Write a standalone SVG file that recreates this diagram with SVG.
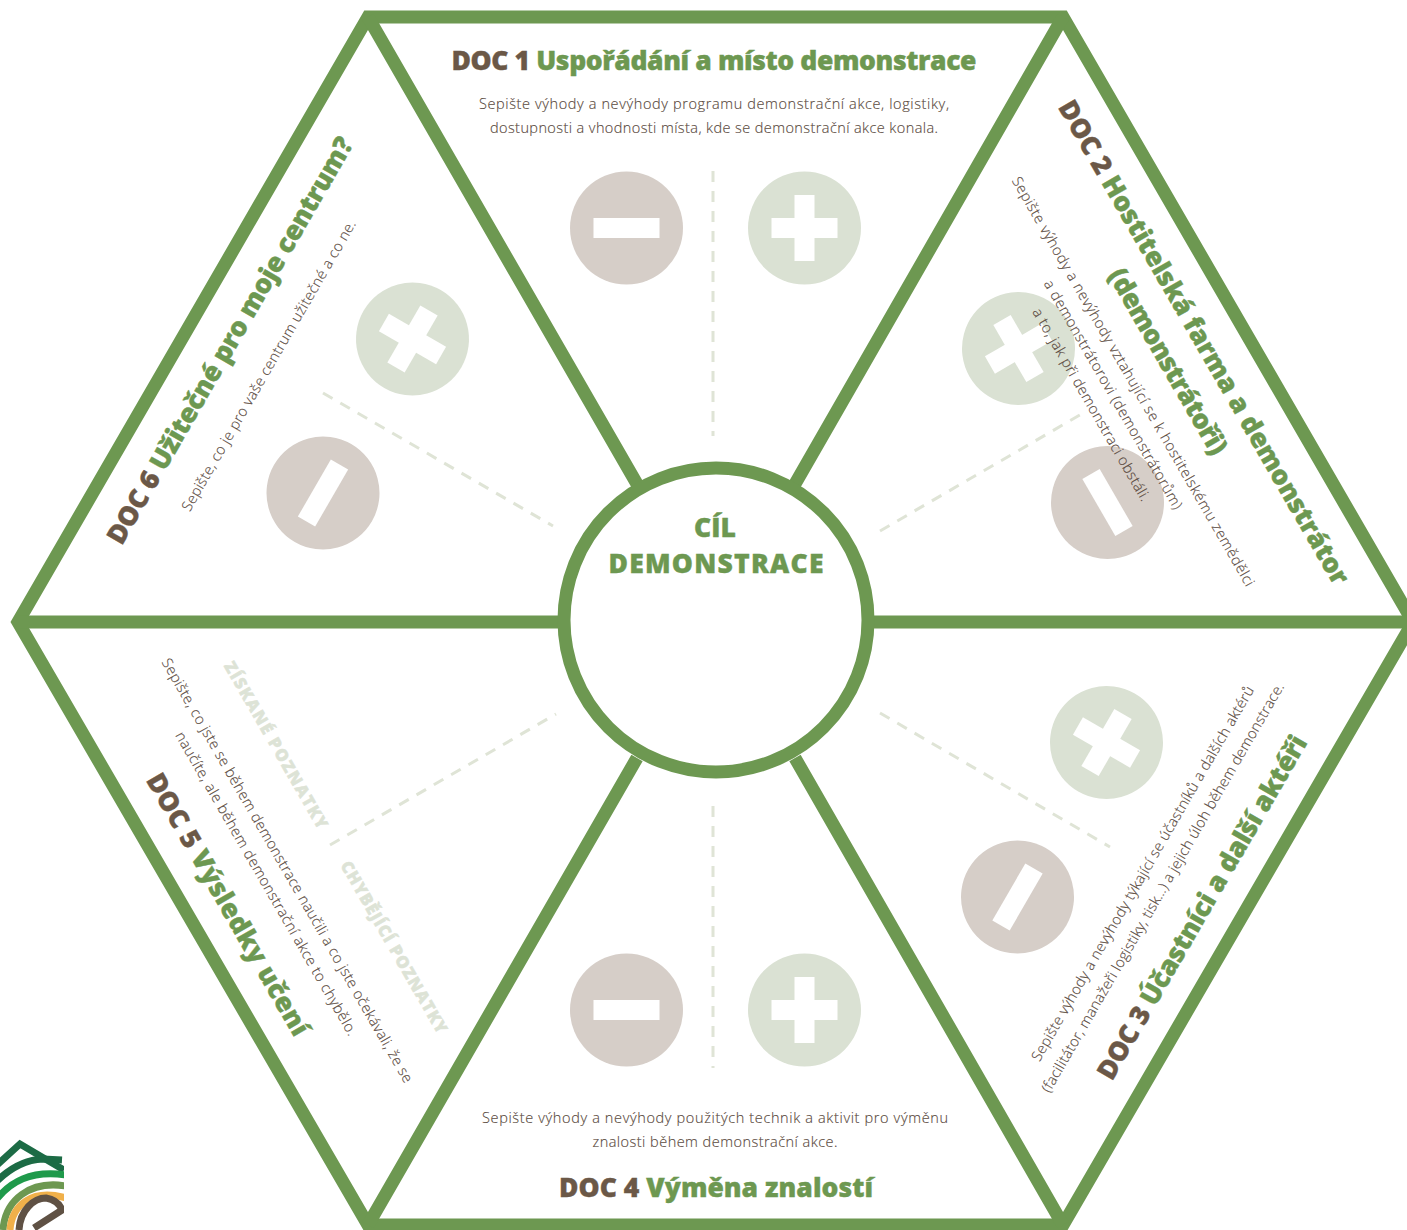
<svg xmlns="http://www.w3.org/2000/svg" width="1407" height="1230" viewBox="0 0 1407 1230">
<style>
text{font-family:"Open Sans","Noto Sans","DejaVu Sans",sans-serif;text-anchor:middle}
.t{font-size:26.5px;font-weight:800;fill:#6d9851;stroke:#6d9851;stroke-width:.4}
.t tspan{fill:#6b5847;stroke:#6b5847}
.d{font-size:14.5px;font-weight:300;fill:#5a4a3e;stroke:#5a4a3e;stroke-width:.15}
.k{font-size:16.5px;font-weight:800;fill:#dde3d6;stroke:#dde3d6;stroke-width:.5}
.edge{fill:none;stroke:#6d9851;stroke-width:13;stroke-linejoin:miter}
.dash{fill:none;stroke:#dfe4d6;stroke-width:3;stroke-dasharray:11 9}
.bg-p{fill:#dae1d3}.bg-m{fill:#d6cec8}.w{fill:#fff}
.l{fill:none;stroke-width:7}
</style>
<defs>
<g id="plus"><circle r="56.5" class="bg-p"/><rect x="-33" y="-10" width="66" height="20" class="w"/><rect x="-10" y="-33" width="20" height="66" class="w"/></g>
<g id="minus"><circle r="56.5" class="bg-m"/><rect x="-33" y="-10" width="66" height="20" class="w"/></g>
<clipPath id="lc"><rect x="0" y="1130" width="64" height="100"/></clipPath>
</defs>
<rect width="1407" height="1230" fill="#fff"/>
<g id="connectors">
<polygon class="edge" points="368,17 1063,17 1413,622 1063,1225 368,1225 18,622"/>
<path class="edge" d="M368,17 L637,484M1063,17 L795,484M18,622 H560M1413,622 H872M368,1225 L637,758M1063,1225 L795,758"/>
<path class="dash" d="M713,171V436M713,806V1068M880,531L1085,412M880,713L1110,847M330,845L556,714M323,393L553,526"/>
</g>
<g id="center"><circle cx="716" cy="620" r="152" fill="#fff" stroke="#6d9851" stroke-width="13"/>
<text class="t" x="715" y="537">CÍL</text><text class="t" x="716" y="573" textLength="215">DEMONSTRACE</text></g>
<g id="doc1"><text class="t" x="714" y="70" textLength="525"><tspan>DOC 1</tspan> Uspořádání a místo demonstrace</text>
<text class="d" x="714" y="109" textLength="470">Sepište výhody a nevýhody programu demonstrační akce, logistiky,</text>
<text class="d" x="714" y="133" textLength="448">dostupnosti a vhodnosti místa, kde se demonstrační akce konala.</text>
<use href="#minus" x="626.5" y="228"/><use href="#plus" x="804.5" y="228"/></g>
<g id="doc2"><use href="#plus" transform="translate(1018.5,348.5) rotate(60)"/><use href="#minus" transform="translate(1107.5,502.5) rotate(60)"/>
<g transform="translate(1196,347) rotate(60)"><text class="t" textLength="554"><tspan>DOC 2</tspan> Hostitelská farma a demonstrátor</text></g>
<g transform="translate(1160,366) rotate(60)"><text class="t" textLength="210">(demonstrátoři)</text></g>
<g transform="translate(1129,384) rotate(60)"><text class="d" textLength="470">Sepište výhody a nevýhody vztahující se k hostitelskému zemědělci</text></g>
<g transform="translate(1109,397) rotate(60)"><text class="d" textLength="262">a demonstrátorovi (demonstrátorům)</text></g>
<g transform="translate(1087,407) rotate(60)"><text class="d" textLength="220">a to, jak při demonstraci obstáli.</text></g></g>
<g id="doc3"><use href="#plus" transform="translate(1106.5,742.5) rotate(30)"/><use href="#minus" transform="translate(1017.5,897) rotate(-60)"/>
<g transform="translate(1210,912) rotate(-60)"><text class="t" textLength="392"><tspan>DOC 3</tspan> Účastníci a další aktéři</text></g>
<g transform="translate(1147,876) rotate(-60)"><text class="d" textLength="430">Sepište výhody a nevýhody týkající se účastníků a dalších aktérů</text></g>
<g transform="translate(1167,890) rotate(-60)"><text class="d" textLength="470">(facilitátor, manažeři logistiky, tisk…) a jejich úloh během demonstrace.</text></g></g>
<g id="doc4"><use href="#minus" x="626.5" y="1010"/><use href="#plus" x="804.5" y="1010"/>
<text class="d" x="715" y="1123" textLength="466">Sepište výhody a nevýhody použitých technik a aktivit pro výměnu</text>
<text class="d" x="715" y="1147" textLength="245">znalosti během demonstrační akce.</text>
<text class="t" x="716" y="1197" textLength="314"><tspan>DOC 4</tspan> Výměna znalostí</text></g>
<g id="doc5"><g transform="translate(220,909) rotate(60)"><text class="t" textLength="298"><tspan>DOC 5</tspan> Výsledky učení</text></g>
<g transform="translate(283,873) rotate(60)"><text class="d" textLength="487">Sepište, co jste se během demonstrace naučili a co jste očekávali, že se</text></g>
<g transform="translate(262,886) rotate(60)"><text class="d" textLength="348">naučíte, ale během demonstrační akce to chybělo.</text></g>
<g transform="translate(271,748) rotate(60)"><text class="k" textLength="190">ZÍSKANÉ POZNATKY</text></g>
<g transform="translate(389,950) rotate(60)"><text class="k" textLength="196">CHYBĚJÍCÍ POZNATKY</text></g></g>
<g id="doc6"><use href="#plus" transform="translate(412.5,339) rotate(30)"/><use href="#minus" transform="translate(323,493) rotate(-60)"/>
<g transform="translate(238,345) rotate(-60)"><text class="t" textLength="465"><tspan>DOC 6</tspan> Užitečné pro moje centrum?</text></g>
<g transform="translate(273,368) rotate(-60)"><text class="d" textLength="333">Sepište, co je pro vaše centrum užitečné a co ne.</text></g></g>
<g id="logo" clip-path="url(#lc)">
<path class="l" d="M-4,1166 L20,1144 L64,1170" stroke="#1c6b45" stroke-width="6"/>
<path class="l" d="M-4,1182 Q18,1160 43,1159 L62,1160" stroke="#1c6b45"/>
<path class="l" d="M-4,1200 C10,1182 30,1170 66,1175" stroke="#1f9a4b"/>
<path class="l" d="M3,1230 C5,1200 30,1180 66,1186" stroke="#6d9851"/>
<path class="l" d="M10,1230 C12,1205 32,1188 66,1198" stroke="#f0b04a"/>
<path class="l" d="M19,1230 C20,1210 34,1198 46,1198 Q58,1200 62,1210 L34,1228" stroke="#5f5144" stroke-width="6"/>
</g>
</svg>
